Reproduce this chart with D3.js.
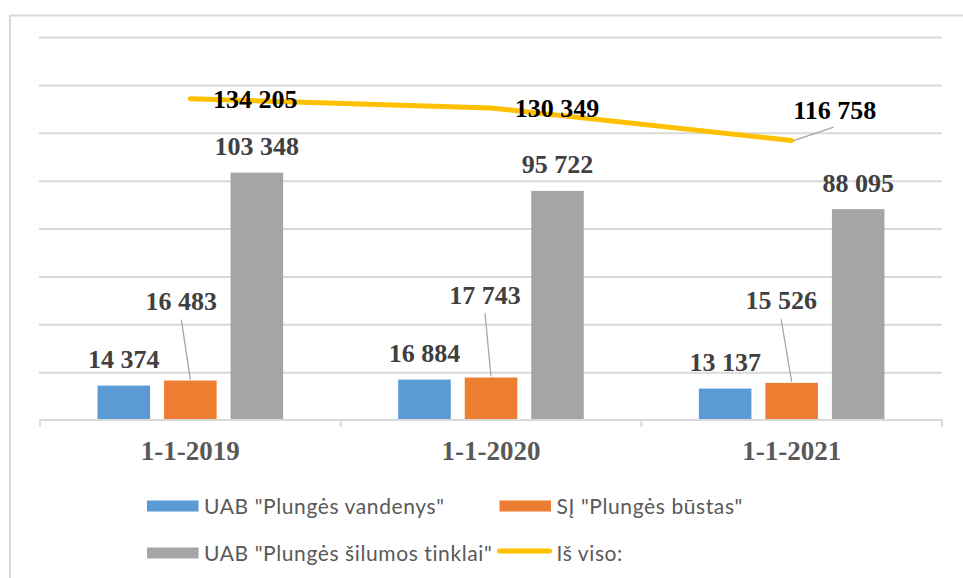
<!DOCTYPE html>
<html>
<head>
<meta charset="utf-8">
<script src="https://cdn.jsdelivr.net/npm/d3@7"></script>
<style>
  body { margin: 0; background: #fff; }
  svg { display: block; }
</style>
</head>
<body>
<script>
// ---- data ----
const categories = ["1-1-2019", "1-1-2020", "1-1-2021"];
const seriesNames = ['UAB "Plungės vandenys"', 'SĮ "Plungės būstas"', 'UAB "Plungės šilumos tinklai"'];
const vandenys = [14374, 16884, 13137];
const bustas = [16483, 17743, 15526];
const silumosTinklai = [103348, 95722, 88095];
const totalName = "Iš viso:";
const totals = [134205, 130349, 116758];
const yTicks = [0, 20000, 40000, 60000, 80000, 100000, 120000, 140000, 160000];

// ---- layout ----
const W = 963, H = 578;
const plot = { left: 40, right: 942, top: 37, bottom: 420 };
const colors = ["#5B9BD5", "#ED7D31", "#A5A5A5"];
const lineColor = "#FFC000";
// hand-placed label offsets (dx from mark centre, dy of baseline from mark top)
const bustasLabelOffset = [[-9, -71], [-6, -74], [-10.5, -73.5]];
const totalLabelOffset = [[65, 9], [66, 9], [43, -22]];
const totalLeader = [false, false, true];

const fmt = d3.formatLocale({ decimal: ",", thousands: " ", grouping: [3], currency: ["", " €"] }).format(",d");

const svg = d3.select("body").append("svg").attr("width", W).attr("height", H);

// chart frame
svg.append("rect")
  .attr("x", 10).attr("y", 15.5).attr("width", 1000).attr("height", 1000)
  .attr("fill", "none").attr("stroke", "#d9d9d9").attr("stroke-width", 2);

const x0 = d3.scaleBand().domain(categories).range([plot.left, plot.right]).paddingInner(0).paddingOuter(0);
const keys = [0, 1, 2];
const x1 = d3.scaleBand().domain(keys).range([0, x0.bandwidth()]).paddingInner(0.21).paddingOuter(0.865);
const y = d3.scaleLinear().domain([0, 160000]).range([plot.bottom, plot.top]);

// gridlines
const grid = svg.append("g")
  .attr("transform", `translate(${plot.left - 1},0)`)
  .call(d3.axisLeft(y).tickValues(yTicks.slice(1)).tickSize(-(plot.right - plot.left + 1)).tickFormat(""));
grid.select(".domain").remove();
grid.selectAll("line").attr("stroke", "#d9d9d9").attr("stroke-width", 2);

// bars
const seriesValues = [vandenys, bustas, silumosTinklai];
const groups = svg.append("g").selectAll("g")
  .data(categories).join("g")
  .attr("transform", d => `translate(${x0(d)},0)`);
groups.selectAll("rect")
  .data((d, i) => keys.map(k => ({ k, v: seriesValues[k][i] })))
  .join("rect")
  .attr("x", d => x1(d.k))
  .attr("width", x1.bandwidth())
  .attr("y", d => y(d.v))
  .attr("height", d => y(0) - y(d.v))
  .attr("fill", d => colors[d.k]);

// category axis
const xAxis = svg.append("g")
  .attr("transform", `translate(0,${plot.bottom})`)
  .call(d3.axisBottom(x0).tickSize(0));
xAxis.select(".domain").remove();
xAxis.selectAll("text")
  .attr("y", 40).attr("dy", null)
  .attr("fill", "#595959")
  .style("font-family", "'Liberation Serif', 'Times New Roman', serif")
  .style("font-weight", "bold")
  .style("font-size", "27px");
svg.append("line")
  .attr("x1", plot.left - 1).attr("x2", plot.right + 1)
  .attr("y1", plot.bottom).attr("y2", plot.bottom)
  .attr("stroke", "#d9d9d9").attr("stroke-width", 2);
const bounds = categories.map(c => x0(c)).concat([x0.range()[1]]);
svg.append("g").selectAll("line").data(bounds).join("line")
  .attr("x1", d => d).attr("x2", d => d)
  .attr("y1", plot.bottom).attr("y2", plot.bottom + 7)
  .attr("stroke", "#d9d9d9").attr("stroke-width", 2);

// total line
const cx = c => x0(c) + x0.bandwidth() / 2;
svg.append("path")
  .datum(totals)
  .attr("d", d3.line().x((d, i) => cx(categories[i])).y(d => y(d)))
  .attr("fill", "none").attr("stroke", lineColor)
  .attr("stroke-width", 5).attr("stroke-linecap", "round").attr("stroke-linejoin", "round");

// data labels and their leader lines
const leaders = svg.append("g").attr("stroke", "#a6a6a6").attr("stroke-width", 1.3);
const labels = svg.append("g")
  .style("font-family", "'Liberation Serif', 'Times New Roman', serif")
  .style("font-weight", "bold").style("font-size", "26px")
  .attr("text-anchor", "middle");
const barX = (i, k) => x0(categories[i]) + x1(k) + x1.bandwidth() / 2;

// blue and grey bars: labels just above the bar end
[0, 2].forEach(k => {
  seriesValues[k].forEach((v, i) => {
    labels.append("text")
      .attr("x", barX(i, k)).attr("y", y(v) - 17.5)
      .attr("fill", "#404040").text(fmt(v));
  });
});

// orange bars: labels lifted, with leader lines
bustas.forEach((v, i) => {
  const bx = barX(i, 1), by = y(v);
  const [dx, dy] = bustasLabelOffset[i];
  leaders.append("line")
    .attr("x1", bx + dx).attr("y1", by + dy + 10)
    .attr("x2", bx).attr("y2", by - 1);
  labels.append("text")
    .attr("x", bx + dx).attr("y", by + dy)
    .attr("fill", "#404040").text(fmt(v));
});

// totals
totals.forEach((v, i) => {
  const px = cx(categories[i]), py = y(v);
  const [dx, dy] = totalLabelOffset[i];
  if (totalLeader[i]) {
    leaders.append("line")
      .attr("x1", px + dx - 1).attr("y1", py + dy + 8.5)
      .attr("x2", px + 2).attr("y2", py);
  }
  labels.append("text")
    .attr("x", px + dx).attr("y", py + dy)
    .attr("fill", "#000").text(fmt(v));
});

// legend
const legendFont = "Lato, 'Open Sans', sans-serif";
const legendItems = [
  { name: seriesNames[0], color: colors[0], type: "bar", x: 147, y: 506 },
  { name: seriesNames[1], color: colors[1], type: "bar", x: 499.5, y: 506 },
  { name: seriesNames[2], color: colors[2], type: "bar", x: 147, y: 553 },
  { name: totalName, color: lineColor, type: "line", x: 499.5, y: 551 }
];
const legend = svg.append("g");
legendItems.forEach(it => {
  const g = legend.append("g").attr("transform", `translate(${it.x},${it.y})`);
  if (it.type === "bar") {
    g.append("rect").attr("x", 0).attr("y", -5.5).attr("width", 51.5).attr("height", 11).attr("fill", it.color);
  } else {
    g.append("line").attr("x1", 0).attr("x2", 50).attr("y1", 0).attr("y2", 0)
      .attr("stroke", it.color).attr("stroke-width", 5).attr("stroke-linecap", "round");
  }
  g.append("text")
    .attr("x", 57).attr("y", it.type === "bar" ? 7.5 : 9.5)
    .attr("fill", "#595959")
    .style("font-family", legendFont).style("font-size", "21px")
    .style("letter-spacing", "0.6px")
    .text(it.name);
});
</script>
</body>
</html>
